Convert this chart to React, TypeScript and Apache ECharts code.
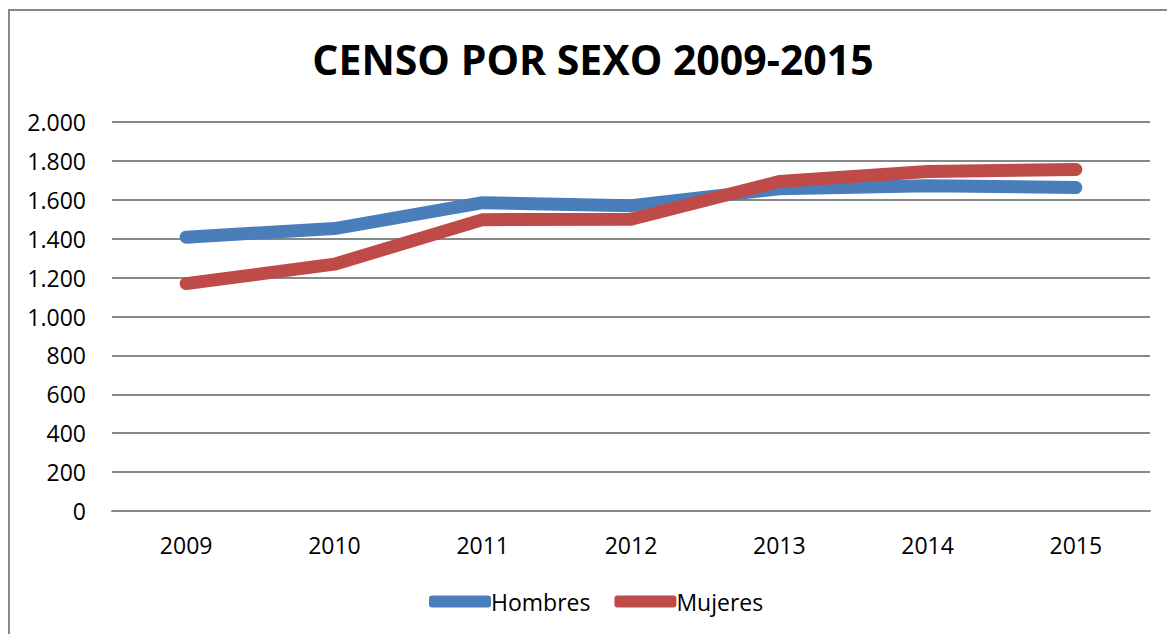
import React, { useEffect, useRef } from "react";
import * as echarts from "echarts";

const years = ["2009", "2010", "2011", "2012", "2013", "2014", "2015"];
const hombres = [1408, 1452, 1585, 1570, 1657, 1672, 1663];
const mujeres = [1169, 1269, 1498, 1500, 1694, 1745, 1756];
const titleText = "CENSO POR SEXO 2009-2015";

const FONT = "'Open Sans', 'Noto Sans', sans-serif";

export default function App() {
  const ref = useRef<HTMLDivElement>(null);
  useEffect(() => {
    document.body.style.margin = "0";
    if (!ref.current) return;
    const chart = echarts.init(ref.current, undefined, { renderer: "svg" });
    chart.setOption({
      animation: false,
      backgroundColor: "#ffffff",
      title: {
        text: titleText,
        left: 588,
        textAlign: "center",
        top: 33,
        textStyle: { fontFamily: FONT, fontSize: 41, fontWeight: "bold", color: "#000" },
      },
      graphic: [
        {
          type: "rect",
          shape: { x: 9, y: 10, width: 1300, height: 800 },
          style: { fill: "none", stroke: "#888888", lineWidth: 2 },
          silent: true,
          z: -1,
        },
      ],
      legend: {
        left: 424,
        top: 585,
        itemWidth: 62,
        itemHeight: 12,
        itemGap: 24,
        icon: "roundRect",
        textStyle: { fontFamily: FONT, fontSize: 23, color: "#000", padding: [0, 0, 0, -5] },
        data: ["Hombres", "Mujeres"],
      },
      grid: { left: 112, right: 17, top: 122, bottom: 123 },
      xAxis: {
        type: "category",
        data: years,
        boundaryGap: true,
        axisLine: { show: true, lineStyle: { color: "#888888", width: 2 } },
        axisTick: { show: false },
        axisLabel: { fontFamily: FONT, fontSize: 23, color: "#000", margin: 22 },
      },
      yAxis: {
        type: "value",
        min: 0,
        max: 2000,
        interval: 200,
        axisLine: { show: false },
        axisTick: { show: false },
        splitLine: { lineStyle: { color: "#888888", width: 2 } },
        axisLabel: {
          fontFamily: FONT,
          fontSize: 23,
          color: "#000",
          margin: 26,
          formatter: (v: number) =>
            v >= 1000 ? Math.floor(v / 1000) + "." + String(v % 1000).padStart(3, "0") : String(v),
        },
      },
      series: [
        {
          name: "Hombres",
          type: "line",
          data: hombres,
          symbol: "none",
          color: "#4A7EBB",
          lineStyle: { width: 13, color: "#4A7EBB", cap: "round", join: "round" },
        },
        {
          name: "Mujeres",
          type: "line",
          data: mujeres,
          symbol: "none",
          color: "#BE4B48",
          lineStyle: { width: 13, color: "#BE4B48", cap: "round", join: "round" },
        },
      ],
    });
    return () => chart.dispose();
  }, []);
  return <div ref={ref} style={{ width: 1167, height: 634 }} />;
}
